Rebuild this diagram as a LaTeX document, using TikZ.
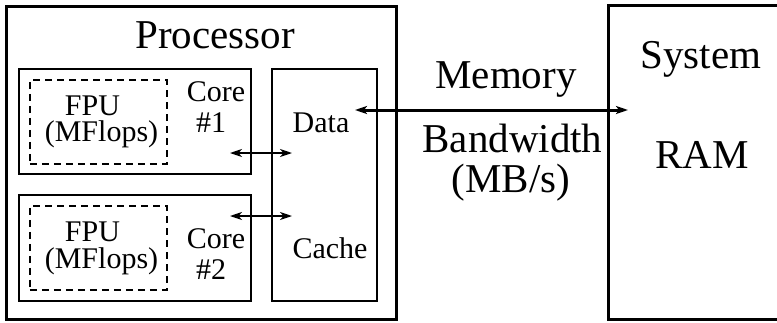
\documentclass[tikz,border=0pt]{standalone}
\usepackage{fontspec}
\setmainfont{Liberation Serif}
\usetikzlibrary{arrows.meta}
\begin{document}
\begin{tikzpicture}[x=1pt,y=-1pt,
  big/.style={font=\fontsize{41}{45}\selectfont, anchor=base, inner sep=0pt},
  small/.style={font=\fontsize{30}{33}\selectfont, anchor=base, inner sep=0pt},
  thickbox/.style={draw, line width=3pt, rectangle, inner sep=0pt, anchor=north west},
  thinbox/.style={draw, line width=1.7pt, rectangle, inner sep=0pt, anchor=north west},
  dashbox/.style={draw, line width=1.8pt, dash pattern=on 7pt off 5pt, rectangle, inner sep=0pt, anchor=north west},
  smallarrow/.style={line width=1.6pt, {Stealth[length=12pt,width=8pt,inset=3.5pt]}-{Stealth[length=12pt,width=8pt,inset=3.5pt]}},
  bigarrow/.style={line width=3pt, {Stealth[length=12pt,width=8pt,inset=3pt]}-{Stealth[length=12pt,width=8pt,inset=3pt]}}
]
\useasboundingbox (0,0) rectangle (777,322);
% Processor
\node[thickbox, minimum width=390pt, minimum height=313pt] (proc) at (5,5) {};
\node[big] (proctext) at (215,48) {Processor};
% Cores
\node[thinbox, minimum width=232pt, minimum height=105pt] (core1) at (18,68) {};
\node[thinbox, minimum width=232pt, minimum height=106pt] (core2) at (18,194) {};
\node[dashbox, minimum width=137pt, minimum height=84pt] (fpu1) at (29,79) {};
\node[dashbox, minimum width=137pt, minimum height=84pt] (fpu2) at (29,205) {};
\node[thinbox, minimum width=105pt, minimum height=232pt] (cache) at (271,68) {};
% core texts
\node[small] (fpu1a) at (92.5,115.5) {FPU};
\node[small] (fpu1b) at (101.5,141) {(MFlops)};
\node[small] (core1a) at (216,101) {Core};
\node[small] (core1b) at (211,132) {\#1};
\node[small] (fpu2a) at (92.5,241.5) {FPU};
\node[small] (fpu2b) at (101.5,268) {(MFlops)};
\node[small] (core2a) at (216,248) {Core};
\node[small] (core2b) at (211,279) {\#2};
\node[small] (data) at (321,132) {Data};
\node[small] (cachetext) at (330,258) {Cache};
% RAM
\draw[line width=3pt] (780,5) -- (608,5) -- (608,319) -- (780,319);
\node[big] (sys) at (701,68) {System};
\node[big] (ram) at (702,168) {RAM};
% memory labels
\node[big] (mem) at (506,88) {Memory};
\node[big] (bw) at (512.5,152) {Bandwidth};
\node[big] (mbs) at (511,192) {(MB/s)};
% arrows
\coordinate (a1l) at (230,153);
\coordinate (a1r) at (292,153);
\coordinate (a2l) at (230,216);
\coordinate (a2r) at (292,216);
\coordinate (ml) at (355,110);
\coordinate (mr) at (628,110);
\draw[smallarrow] (a1l) -- (a1r);
\draw[smallarrow] (a2l) -- (a2r);
\draw[bigarrow] (ml) -- (mr);
\end{tikzpicture}
\end{document}
